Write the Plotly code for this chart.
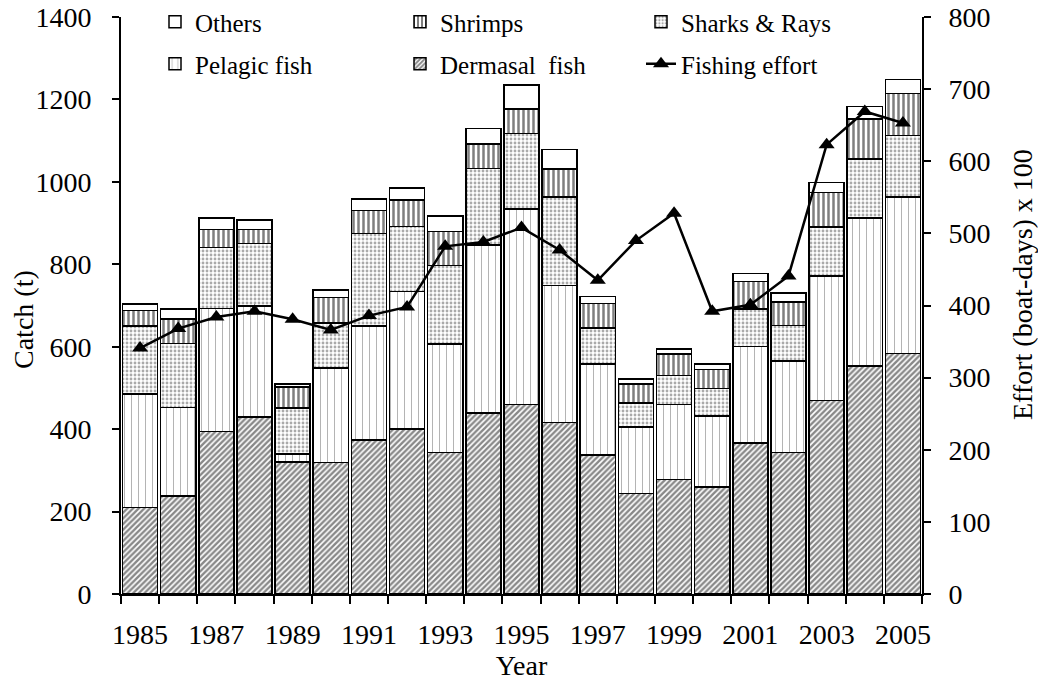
import plotly.graph_objects as go

# Annual catch by group (t) and fishing effort (boat-days x 100), 1985-2005
years = list(range(1985, 2006))

demersal = [210, 238, 394, 430, 320, 319, 374, 400, 343, 439, 460, 416, 337, 244, 278, 260, 366, 343, 469, 553, 583]
pelagic = [275, 214, 299, 269, 20, 229, 276, 334, 264, 408, 474, 332, 221, 161, 182, 172, 234, 222, 303, 359, 380]
sharks_rays = [165, 156, 148, 151, 111, 109, 225, 158, 190, 185, 183, 215, 87, 59, 70, 67, 92, 86, 119, 143, 149]
shrimps = [38, 59, 44, 35, 51, 63, 55, 64, 82, 60, 60, 68, 60, 45, 52, 46, 66, 58, 83, 97, 103]
others = [16, 24, 27, 23, 8, 18, 28, 29, 38, 37, 58, 47, 17, 13, 13, 13, 20, 21, 25, 31, 33]

effort = [341, 368, 384, 392, 381, 366, 386, 398, 482, 488, 508, 477, 435, 490, 528, 392, 401, 441, 623, 669, 653]

x_labels = [y for y in years if y % 2 == 1]
x_bounds = [years[0] - 0.5 + i for i in range(len(years) + 1)]

FONT = "Liberation Serif"
W, H = 1038, 686
ML, MR, MT, MB = 121, 116, 17, 92
PW, PH = W - ML - MR, H - MT - MB

fig = go.Figure()

# Stacked bar series, bottom to top: (name, values, pattern, legend slot)
bar_series = [
    ("Dermasal\u00a0 fish", demersal, dict(shape="/", fgcolor="#111111", bgcolor="white", size=4, solidity=0.6), "legend5"),
    ("Pelagic fish", pelagic, dict(shape="|", fgcolor="#666666", bgcolor="white", size=7, solidity=0.14), "legend4"),
    ("Sharks & Rays", sharks_rays, dict(shape=".", fgcolor="#555555", bgcolor="white", size=4, solidity=0.4), "legend3"),
    ("Shrimps", shrimps, dict(shape="|", fgcolor="black", bgcolor="white", size=5, solidity=0.5), "legend2"),
    ("Others", others, dict(shape="", bgcolor="white"), "legend"),
]

for name, vals, pattern, leg in bar_series:
    fig.add_trace(go.Bar(
        x=years, y=vals, name=name, legend=leg,
        marker=dict(color="white", pattern=pattern, line=dict(color="black", width=1.5)),
        yaxis="y",
    ))

fig.add_trace(go.Scatter(
    x=years, y=effort, name="Fishing effort", legend="legend6",
    mode="lines+markers", yaxis="y2",
    line=dict(color="black", width=2.5),
    marker=dict(symbol="triangle-up", size=14, color="black"),
))


# Legend placement: three columns, two rows, inside the plot area
def legend_at(x_px, y_px):
    return dict(
        xref="paper", yref="paper",
        x=(x_px - ML) / PW, y=(H - MB - y_px) / PH, xanchor="left", yanchor="middle",
        bgcolor="rgba(0,0,0,0)", borderwidth=0,
        font=dict(family=FONT, size=25, color="black"),
        itemwidth=30,
    )


col_x = [155, 400, 641]
row_y = [22, 64]

title_font = dict(family=FONT, size=28, color="black")

fig.update_layout(
    width=W, height=H,
    margin=dict(l=ML, r=MR, t=MT, b=MB, autoexpand=False),
    paper_bgcolor="white", plot_bgcolor="white",
    barmode="stack", bargap=0.08,
    showlegend=True,
    font=dict(family=FONT, size=28, color="black"),
    legend=legend_at(col_x[0], row_y[0]),
    legend2=legend_at(col_x[1], row_y[0]),
    legend3=legend_at(col_x[2], row_y[0]),
    legend4=legend_at(col_x[0], row_y[1]),
    legend5=legend_at(col_x[1], row_y[1]),
    legend6=legend_at(col_x[2], row_y[1]),
    xaxis=dict(
        range=[x_bounds[0], x_bounds[-1]],
        tickmode="array", tickvals=x_labels, ticktext=[str(v) for v in x_labels],
        ticks="", showgrid=False, zeroline=False,
        showline=True, linecolor="black", linewidth=2,
        ticklabelstandoff=14,
        tickfont=title_font,
        minor=dict(tickmode="array", tickvals=x_bounds, ticks="outside",
                   ticklen=8, tickwidth=2, tickcolor="black", showgrid=False),
        title=dict(text="Year", standoff=4, font=title_font),
    ),
    yaxis=dict(
        range=[0, 1400], dtick=200, tick0=0,
        ticks="outside", ticklen=7, tickwidth=2, tickcolor="black",
        showgrid=False, zeroline=False,
        showline=True, linecolor="black", linewidth=2,
        ticklabelstandoff=15,
        tickfont=title_font,
    ),
    yaxis2=dict(
        range=[0, 800], dtick=100, tick0=0,
        overlaying="y", side="right", anchor="x",
        ticks="outside", ticklen=7, tickwidth=2, tickcolor="black",
        showgrid=False, zeroline=False,
        showline=True, linecolor="black", linewidth=2,
        ticklabelstandoff=12,
        tickfont=title_font,
    ),
    annotations=[
        dict(text="Catch (t)", textangle=-90, xref="paper", yref="paper",
             x=(23 - ML) / PW, y=(H - MB - 320) / PH, xanchor="center", yanchor="middle",
             showarrow=False, font=title_font),
        dict(text="Effort (boat-days) x 100", textangle=-90, xref="paper", yref="paper",
             x=(1022 - ML) / PW, y=(H - MB - 285) / PH, xanchor="center", yanchor="middle",
             showarrow=False, font=title_font),
    ],
)

fig.write_html("out.html")
